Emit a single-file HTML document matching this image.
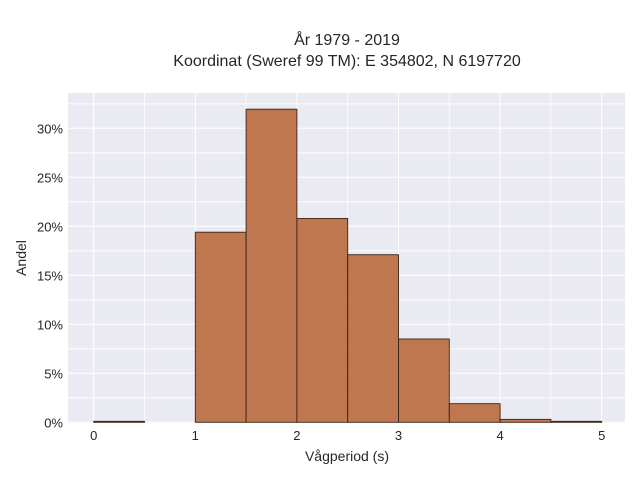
<!DOCTYPE html>
<html><head><meta charset="utf-8"><style>
body{margin:0;background:#fff;font-family:"Liberation Sans",sans-serif}
svg text{font-family:"Liberation Sans",sans-serif;fill:#262626}
</style></head><body>
<svg width="640" height="480">
<text x="347" y="45" font-size="16" text-anchor="middle">År 1979 - 2019</text>
<text x="347" y="66" font-size="16" text-anchor="middle">Koordinat (Sweref 99 TM): E 354802, N 6197720</text>
<rect x="68" y="93" width="557" height="330" fill="#eaeaf2"/>
<g id="grid"></g><g id="bars"></g><g id="ticks"></g>
<text x="347" y="461" font-size="14" text-anchor="middle">Vågperiod (s)</text>
<text x="0" y="0" font-size="14" text-anchor="middle" transform="translate(26,258) rotate(-90)">Andel</text>
</svg>
<script>
const binEdges=[0,0.5,1,1.5,2,2.5,3,3.5,4,4.5,5];
const shares=[0.1,0,19.4,31.95,20.8,17.1,8.5,1.9,0.3,0.1];
const xTicks=[0,1,2,3,4,5];
const yTicks=[0,5,10,15,20,25,30];
const ns="http://www.w3.org/2000/svg";
const X=v=>93.7+v*101.6, Y=v=>422.3-v*9.8;
function mk(t,a,p){const e=document.createElementNS(ns,t);for(const k in a)e.setAttribute(k,a[k]);p.appendChild(e);return e;}
const g=document.getElementById('grid'),b=document.getElementById('bars'),tk=document.getElementById('ticks');
for(let v=0;v<=5;v+=0.5){const l=mk('line',{x1:X(v),x2:X(v),y1:93,y2:423,stroke:'#fff','stroke-width':v%1?0.8:1},g);

}
for(let v=0;v<=32.5;v+=2.5){const l=mk('line',{x1:68,x2:625,y1:Y(v),y2:Y(v),stroke:'#fff','stroke-width':v%5?0.8:1},g);

}
shares.forEach((s,i)=>{if(s<=0)return;const x0=X(binEdges[i]),x1=X(binEdges[i+1]);
const r=mk('rect',{x:x0,y:Y(s),width:x1-x0,height:Y(0)-Y(s),fill:'#b86738','fill-opacity':0.88,stroke:'#3a2418','stroke-width':0.9},b);

});
xTicks.forEach(v=>{const t=mk('text',{x:X(v),y:440,'font-size':13,'text-anchor':'middle'},tk);t.textContent=v;

});
yTicks.forEach(v=>{const t=mk('text',{x:63,y:Y(v)+5,'font-size':13,'text-anchor':'end'},tk);t.textContent=v+'%';

});
</script>
</body></html>
